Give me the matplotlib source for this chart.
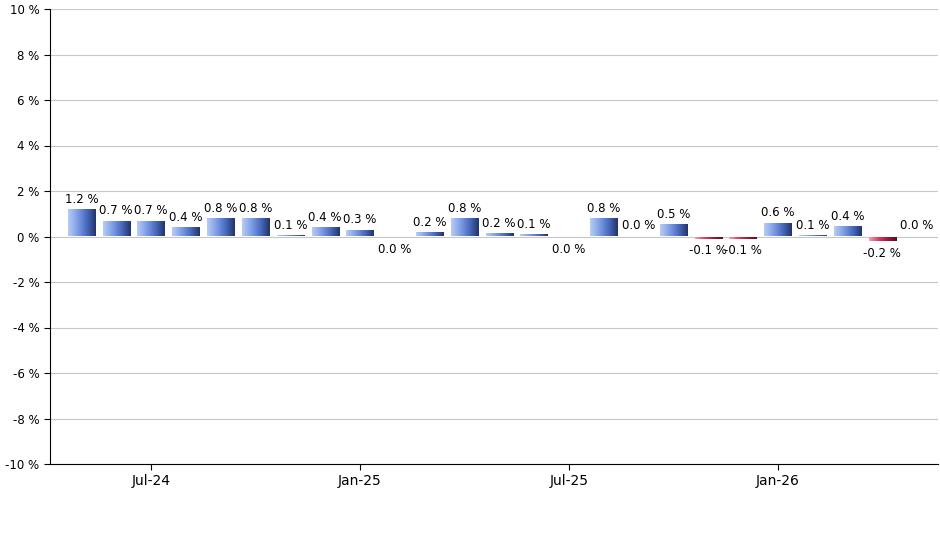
import numpy as np
import matplotlib.pyplot as plt
from matplotlib.colors import LinearSegmentedColormap

values = [1.2, 0.7, 0.7, 0.4, 0.8, 0.8, 0.05, 0.4, 0.3, -0.03, 0.2, 0.8, 0.15, 0.1, -0.03,
          0.8, 0.04, 0.55, -0.1, -0.1, 0.6, 0.06, 0.45, -0.2, 0.03]
labels = ["1.2 %", "0.7 %", "0.7 %", "0.4 %", "0.8 %", "0.8 %", "0.1 %", "0.4 %", "0.3 %", "0.0 %",
          "0.2 %", "0.8 %", "0.2 %", "0.1 %", "0.0 %", "0.8 %", "0.0 %", "0.5 %", "-0.1 %", "-0.1 %",
          "0.6 %", "0.1 %", "0.4 %", "-0.2 %", "0.0 %"]
tick_pos = [2, 8, 14, 20]
tick_labels = ["Jul-24", "Jan-25", "Jul-25", "Jan-26"]

blue = LinearSegmentedColormap.from_list("b", ["#b8cdf5", "#7f9ee6", "#4a6bc0", "#22346a"])
red = LinearSegmentedColormap.from_list("r", ["#f0a0b0", "#d84060", "#a01838", "#501020"])
grad = np.linspace(0, 1, 64).reshape(1, -1)

fig = plt.figure(figsize=(9.4, 5.5), dpi=100)
ax = fig.add_axes([50 / 940, 86 / 550, 888 / 940, 455 / 550])
x = np.arange(len(values))
w = 0.78
bars = ax.bar(x, values, width=w, color="none", edgecolor="none", zorder=3)
for xi, v, b in zip(x, values, bars):
    lo, hi = min(0, v), max(0, v)
    im = ax.imshow(grad, cmap=blue if v >= 0 else red, aspect="auto",
                   extent=[xi - w / 2, xi + w / 2, lo, hi], zorder=3)
    im.set_clip_path(b)
    if v >= 0.03:
        ax.text(xi, v + 0.15, labels[xi], ha="center", va="bottom", fontsize=8.5, zorder=4)
    else:
        ax.text(xi, v - 0.25, labels[xi], ha="center", va="top", fontsize=8.5, zorder=4)

ax.set_xlim(-0.9, len(values) - 0.4)
ax.set_ylim(-10, 10)
ax.set_yticks(range(-10, 11, 2))
ax.set_yticklabels([f"{t} %" for t in range(-10, 11, 2)], fontsize=8.5)
ax.set_xticks(tick_pos)
ax.set_xticklabels(tick_labels, rotation=90, fontsize=8.5)
ax.grid(axis="y", color="#c8c8c8", linewidth=0.8, zorder=0)
for s in ["top", "right"]:
    ax.spines[s].set_visible(False)
ax.spines["bottom"].set_position(("data", -10))
ax.tick_params(length=4)
fig.savefig("out.png", dpi=100)
